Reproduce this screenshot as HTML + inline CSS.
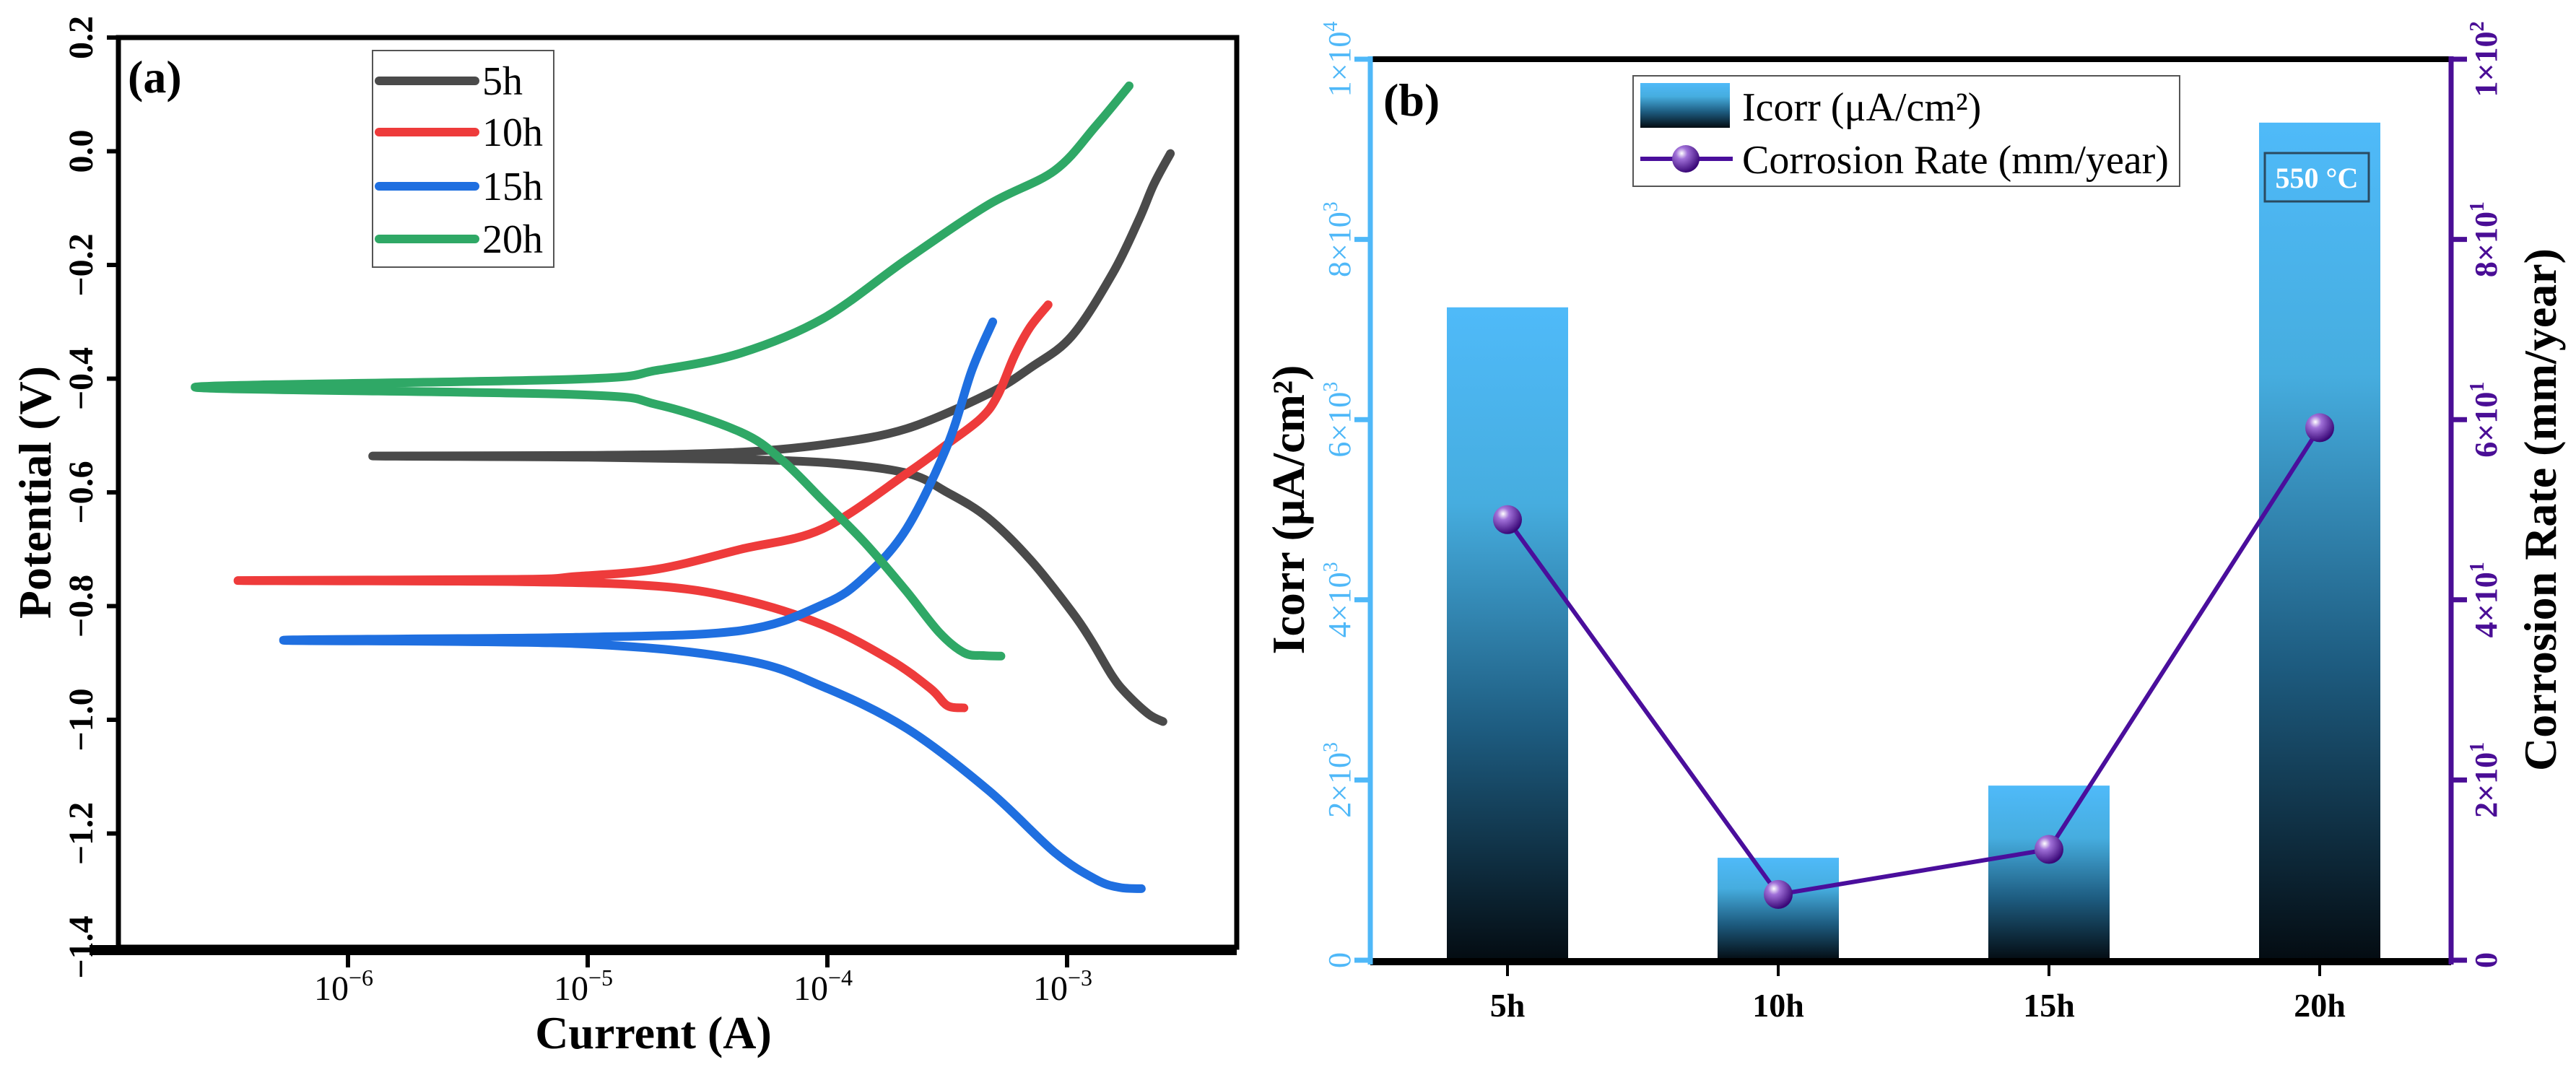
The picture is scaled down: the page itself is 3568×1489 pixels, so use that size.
<!DOCTYPE html>
<html><head><meta charset="utf-8"><style>
html,body{margin:0;padding:0;background:#fff;}
svg{display:block;font-family:"Liberation Serif","DejaVu Serif",serif;}
</style></head><body>
<svg id="fig" width="3568" height="1489" viewBox="0 0 3568 1489" xmlns="http://www.w3.org/2000/svg">
<defs>
<linearGradient id="barGrad" x1="0" y1="0" x2="0" y2="1">
<stop offset="0" stop-color="#4fbaf9"/>
<stop offset="0.3" stop-color="#46addf"/>
<stop offset="0.65" stop-color="#1d5b7f"/>
<stop offset="1" stop-color="#040c12"/>
</linearGradient>
<radialGradient id="ballGrad" cx="0.35" cy="0.3" r="0.7">
<stop offset="0" stop-color="#ffffff"/>
<stop offset="0.3" stop-color="#a070d8"/>
<stop offset="1" stop-color="#3a0878"/>
</radialGradient>
</defs>
<g id="panelA"></g>
<g id="panelB"></g>
</svg>
<script>
// ---- Panel (a) data: log10(current) and potential ----
const seriesNames = ["5h","10h","15h","20h"];
const seriesColors = ["#4a4a4a","#ee3b3b","#1f6fe0","#2fa866"];
const logI_5h = [-2.60,-2.66,-2.75,-2.81,-2.90,-2.98,-3.15,-3.33,-3.50,-3.67,-4.0,-4.4,-5.0,-5.897,-5.0,-4.4,-4.0,-3.67,-3.33,-3.15,-2.98,-2.81,-2.70,-2.638,-2.569];
const E_5h    = [-1.003,-0.99,-0.955,-0.924,-0.86,-0.81,-0.72,-0.645,-0.60,-0.566,-0.548,-0.542,-0.538,-0.536,-0.535,-0.53,-0.515,-0.488,-0.427,-0.38,-0.325,-0.215,-0.12,-0.058,-0.004];
const logI_10h = [-3.43,-3.50,-3.57,-3.74,-4.02,-4.36,-4.71,-5.3,-6.459,-5.3,-5.05,-4.71,-4.36,-4.02,-3.67,-3.50,-3.36,-3.29,-3.22,-3.155,-3.079];
const E_10h    = [-0.979,-0.975,-0.945,-0.894,-0.833,-0.788,-0.765,-0.757,-0.755,-0.753,-0.748,-0.735,-0.70,-0.664,-0.567,-0.515,-0.47,-0.43,-0.36,-0.31,-0.27];
const logI_15h = [-2.69,-2.78,-2.879,-3.052,-3.328,-3.67,-4.017,-4.36,-5.05,-6.269,-5.05,-4.36,-4.017,-3.845,-3.67,-3.50,-3.397,-3.31];
const E_15h    = [-1.297,-1.295,-1.281,-1.233,-1.124,-1.015,-0.942,-0.894,-0.866,-0.86,-0.855,-0.843,-0.797,-0.749,-0.664,-0.518,-0.385,-0.30];
const logI_20h = [-3.276,-3.35,-3.43,-3.534,-3.672,-3.845,-4.017,-4.19,-4.362,-4.707,-5.05,-6.638,-5.05,-4.707,-4.362,-4.017,-3.672,-3.328,-3.052,-2.879,-2.741];
const E_20h    = [-0.888,-0.887,-0.882,-0.846,-0.773,-0.688,-0.615,-0.543,-0.494,-0.446,-0.428,-0.415,-0.401,-0.385,-0.355,-0.294,-0.191,-0.094,-0.034,0.045,0.115];
const yTicksA = [0.2,0.0,-0.2,-0.4,-0.6,-0.8,-1.0,-1.2,-1.4];
const yTickLabelsA = ["0.2","0.0","−0.2","−0.4","−0.6","−0.8","−1.0","−1.2","−1.4"];
const xTicksA = [-6,-5,-4,-3];
const xTickExpA = ["−6","−5","−4","−3"];

// ---- Panel (b) data ----
const categories = ["5h","10h","15h","20h"];
const icorrValues = [7246,1137,1938,9296];
const rateValues = [48.9,7.3,12.3,59.1];
const leftTicks = [0,2000,4000,6000,8000,10000];
const leftTickMant = ["0","2","4","6","8","1"];
const leftTickExp = ["","3","3","3","3","4"];
const rightTicks = [0,20,40,60,80,100];
const rightTickMant = ["0","2","4","6","8","1"];
const rightTickExp = ["","1","1","1","1","2"];

const NS="http://www.w3.org/2000/svg";
function mk(tag,attrs,parent){const e=document.createElementNS(NS,tag);for(const k in attrs)e.setAttribute(k,attrs[k]);if(parent)parent.appendChild(e);return e;}
function smoothPath(pts){
  let d="M"+pts[0][0].toFixed(1)+","+pts[0][1].toFixed(1);
  for(let i=0;i<pts.length-1;i++){
    const p0=pts[Math.max(0,i-1)],p1=pts[i],p2=pts[i+1],p3=pts[Math.min(pts.length-1,i+2)];
    const c1x=p1[0]+(p2[0]-p0[0])/6,c1y=p1[1]+(p2[1]-p0[1])/6;
    const c2x=p2[0]-(p3[0]-p1[0])/6,c2y=p2[1]-(p3[1]-p1[1])/6;
    d+="C"+c1x.toFixed(1)+","+c1y.toFixed(1)+" "+c2x.toFixed(1)+","+c2y.toFixed(1)+" "+p2[0].toFixed(1)+","+p2[1].toFixed(1);
  }
  return d;
}

// ===== Panel A =====
const A={l:164,r:1713,t:52,b:1312};
const xA=v=>482+(v+6)*332;
const yA=v=>A.t+(0.2-v)/1.6*(A.b-A.t);
const gA=document.getElementById('panelA');
const logs=[logI_5h,logI_10h,logI_15h,logI_20h], Es=[E_5h,E_10h,E_15h,E_20h];
for(let s=0;s<4;s++){
  const pts=logs[s].map((v,i)=>[xA(v),yA(Es[s][i])]);
  const p=mk('path',{d:smoothPath(pts),fill:"none",stroke:seriesColors[s],"stroke-width":12,"stroke-linejoin":"round","stroke-linecap":"round"},gA);
  
  
}
const frA=mk('rect',{x:A.l,y:A.t,width:A.r-A.l,height:A.b-A.t,fill:"none",stroke:"#000","stroke-width":7},gA);


mk('line',{x1:A.l-40,y1:A.b+4,x2:A.r,y2:A.b+4,stroke:"#000","stroke-width":14},gA);
yTicksA.forEach((v,i)=>{
  const y=yA(v);
  mk('line',{x1:A.l-16,y1:y,x2:A.l,y2:y,stroke:"#000","stroke-width":6},gA);
  const t=mk('text',{x:0,y:0,transform:`translate(128,${y}) rotate(-90)`,"text-anchor":"middle","font-size":48,"font-weight":"bold"},gA);
  t.textContent=yTickLabelsA[i];
  
  
});
xTicksA.forEach((v,i)=>{
  const x=xA(v);
  mk('line',{x1:x,y1:A.b,x2:x,y2:A.b+28,stroke:"#000","stroke-width":6},gA);
  const t=mk('text',{x:x-6,y:1385,"text-anchor":"middle","font-size":48},gA);
  t.textContent="10";
  const sp=mk('tspan',{dy:-20,"font-size":32},t);sp.textContent=xTickExpA[i];
  
  
});
let t=mk('text',{x:905,y:1452,"text-anchor":"middle","font-size":64,"font-weight":"bold"},gA);t.textContent="Current (A)";

t=mk('text',{transform:"translate(70,682) rotate(-90)","text-anchor":"middle","font-size":64,"font-weight":"bold"},gA);t.textContent="Potential (V)";

t=mk('text',{x:177,y:128,"font-size":64,"font-weight":"bold"},gA);t.textContent="(a)";

// legend a
const legA=mk('g',{},gA);

mk('rect',{x:516,y:70,width:251,height:300,fill:"#fff",stroke:"#555","stroke-width":2},legA);
const legY=[112,183,258,331];
for(let s=0;s<4;s++){
  const e=mk('g',{},legA);
  
  
  mk('line',{x1:525,y1:legY[s],x2:658,y2:legY[s],stroke:seriesColors[s],"stroke-width":12,"stroke-linecap":"round"},e);
  const tt=mk('text',{x:668,y:legY[s]+19,"font-size":56},e);tt.textContent=seriesNames[s];
}

// ===== Panel B =====
const B={l:1898,r:3395,t:82,b:1330};
const catX=i=>2088+i*375;
const yL=v=>B.b-v/10000*(B.b-B.t);
const yR=v=>B.b-v/100*(B.b-B.t);
const gB=document.getElementById('panelB');
const barW=168;
icorrValues.forEach((v,i)=>{
  const r=mk('rect',{x:catX(i)-barW/2,y:yL(v),width:barW,height:B.b-yL(v),fill:"url(#barGrad)"},gB);
  
  
});
mk('line',{x1:B.l,y1:B.t,x2:B.r,y2:B.t,stroke:"#000","stroke-width":8},gB);
mk('line',{x1:B.l,y1:B.b+2,x2:B.r,y2:B.b+2,stroke:"#000","stroke-width":10},gB);
const la=mk('line',{x1:B.l,y1:B.t-4,x2:B.l,y2:B.b+6,stroke:"#4fb8f8","stroke-width":7},gB);

const ra=mk('line',{x1:B.r,y1:B.t-4,x2:B.r,y2:B.b+6,stroke:"#4a0e96","stroke-width":7},gB);

leftTicks.forEach((v,i)=>{
  const y=yL(v);
  mk('line',{x1:B.l-22,y1:y,x2:B.l,y2:y,stroke:"#4fb8f8","stroke-width":7},gB);
  const tt=mk('text',{transform:`translate(1870,${y}) rotate(-90)`,"text-anchor":"middle","font-size":44,fill:"#4fb8f8"},gB);
  tt.textContent=leftTickMant[i]+(leftTickExp[i]?"×10":"");
  if(leftTickExp[i]){const sp=mk('tspan',{dy:-18,"font-size":28},tt);sp.textContent=leftTickExp[i];}
  
});
rightTicks.forEach((v,i)=>{
  const y=yR(v);
  mk('line',{x1:B.r,y1:y,x2:B.r+22,y2:y,stroke:"#4a0e96","stroke-width":7},gB);
  const tt=mk('text',{transform:`translate(3458,${y}) rotate(-90)`,"text-anchor":"middle","font-size":44,"font-weight":"bold",fill:"#4a0e96"},gB);
  tt.textContent=rightTickMant[i]+(rightTickExp[i]?"×10":"");
  if(rightTickExp[i]){const sp=mk('tspan',{dy:-18,"font-size":28},tt);sp.textContent=rightTickExp[i];}
  
});
categories.forEach((c,i)=>{
  const x=catX(i);
  mk('line',{x1:x,y1:B.b,x2:x,y2:B.b+22,stroke:"#000","stroke-width":4},gB);
  const tt=mk('text',{x:x,y:1408,"text-anchor":"middle","font-size":46,"font-weight":"bold"},gB);tt.textContent=c;
  
});
let d="";rateValues.forEach((v,i)=>{d+=(i?"L":"M")+catX(i)+","+yR(v).toFixed(1);});
const ln=mk('path',{d:d,fill:"none",stroke:"#4a0e9c","stroke-width":6},gB);

rateValues.forEach((v,i)=>{
  const c=mk('circle',{cx:catX(i),cy:yR(v),r:20,fill:"url(#ballGrad)"},gB);
  
  
});
t=mk('text',{transform:"translate(1806,706) rotate(-90)","text-anchor":"middle","font-size":64,"font-weight":"bold"},gB);t.textContent="Icorr (μA/cm²)";

t=mk('text',{transform:"translate(3540,706) rotate(-90)","text-anchor":"middle","font-size":64,"font-weight":"bold"},gB);t.textContent="Corrosion Rate (mm/year)";

t=mk('text',{x:1916,y:160,"font-size":64,"font-weight":"bold"},gB);t.textContent="(b)";

const tb=mk('g',{},gB);
mk('rect',{x:3137,y:212,width:144,height:67,fill:"none",stroke:"#2a4a60","stroke-width":3},tb);
const t5=mk('text',{x:3209,y:260,"text-anchor":"middle","font-size":40,"font-weight":"bold",fill:"#fff"},tb);t5.textContent="550 °C";
const legB=mk('g',{},gB);
mk('rect',{x:2262,y:105,width:757,height:153,fill:"#fff",stroke:"#555","stroke-width":2},legB);
const e1=mk('g',{},legB);
mk('rect',{x:2272,y:115,width:124,height:62,fill:"url(#barGrad)"},e1);
let lt=mk('text',{x:2413,y:167,"font-size":56},e1);lt.textContent="Icorr (μA/cm²)";
const e2=mk('g',{},legB);
mk('line',{x1:2272,y1:220,x2:2400,y2:220,stroke:"#4a0e9c","stroke-width":6},e2);
mk('circle',{cx:2335,cy:220,r:19,fill:"url(#ballGrad)"},e2);
lt=mk('text',{x:2413,y:240,"font-size":56},e2);lt.textContent="Corrosion Rate (mm/year)";
</script>
</body></html>
